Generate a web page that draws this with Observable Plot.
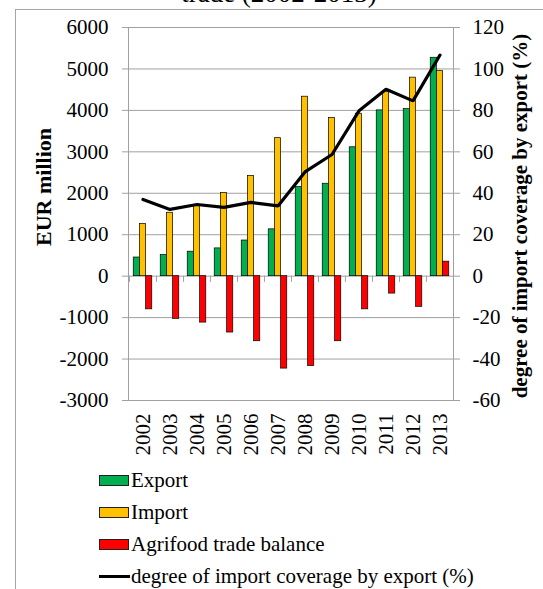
<!DOCTYPE html>
<html><head><meta charset="utf-8">
<script src="https://cdn.jsdelivr.net/npm/d3@7"></script>
<script src="https://cdn.jsdelivr.net/npm/@observablehq/plot@0.6"></script>
<style>
body{margin:0;background:#fff;}
#wrap{position:relative;width:543px;height:589px;overflow:hidden;font-family:"Liberation Serif","Times New Roman",serif;color:#000;background:#fff;}
#frame{position:absolute;left:15px;top:9px;width:600px;height:700px;border-top:1.5px solid #a6a6a6;border-left:1.5px solid #a6a6a6;pointer-events:none;}
#title{position:absolute;top:-20px;left:79px;width:400px;text-align:center;font-size:27px;line-height:1;white-space:nowrap;}
#chart{position:absolute;left:0;top:0;}
.ytitle{position:absolute;transform:translate(-50%,-50%) rotate(-90deg);white-space:nowrap;font-weight:bold;line-height:1;}
#legend{position:absolute;left:99px;top:464px;font-size:21px;line-height:1;}
.item{display:flex;align-items:center;height:32px;white-space:nowrap;}
.sw{width:30px;height:11px;box-sizing:border-box;border:1px solid #222;margin-right:2px;}
.ln{width:31px;height:3px;background:#000;margin-right:1px;}
</style>
</head><body>
<div id="wrap">
  <div id="title">trade (2002-2013)</div>
  <div id="chart"></div>
  <div id="frame"></div>
  <div class="ytitle" style="left:44px;top:187px;font-size:22px;">EUR million</div>
  <div class="ytitle" style="left:520px;top:216px;font-size:21px;">degree of import coverage by export (%)</div>
  <div id="legend"></div>
</div>
<script>
const years = ["2002","2003","2004","2005","2006","2007","2008","2009","2010","2011","2012","2013"];
const exportVals = [450, 510, 590, 670, 860, 1130, 2150, 2230, 3110, 4000, 4030, 5270];
const importVals = [1260, 1530, 1700, 2010, 2420, 3330, 4330, 3820, 3920, 4450, 4790, 4950];
const balanceVals = [-800, -1030, -1120, -1360, -1570, -2230, -2170, -1570, -800, -420, -740, 350];
const coverage = [37.0, 32.2, 34.6, 33.2, 35.6, 33.9, 50.3, 58.7, 79.8, 90.2, 84.6, 106.7];
const leftTicks = [-3000, -2000, -1000, 0, 1000, 2000, 3000, 4000, 5000, 6000];
const rightTicks = [-60, -40, -20, 0, 20, 40, 60, 80, 100, 120];
const seriesNames = ["Export", "Import", "Agrifood trade balance"];
const seriesColors = ["#00b050", "#ffc000", "#ff0000"];
const lineName = "degree of import coverage by export (%)";

const ratio = 6000 / 120; // left axis units per right axis unit
const rows = years.map((y, i) => ({year: y, exp: exportVals[i], imp: importVals[i], bal: balanceVals[i], cov: coverage[i]}));

const W = 543, H = 460, mL = 128, mR = 90, mT = 27, mB = 60;
const bw = (W - mL - mR) / years.length;
const barW = 6.2, gStart = (bw - 3 * barW) / 2;
const barInset = k => ({insetLeft: gStart + k * barW, insetRight: bw - gStart - (k + 1) * barW});
const grid = "#a0a0a0";

const chart = Plot.plot({
  width: W, height: H,
  marginLeft: mL, marginRight: mR, marginTop: mT, marginBottom: mB,
  x: {type: "band", domain: years, padding: 0, axis: null},
  y: {domain: [-3000, 6000], axis: null},
  style: {fontFamily: "'Liberation Serif','Times New Roman',serif", fontSize: "21px", color: "black", background: "transparent", overflow: "visible"},
  marks: [
    Plot.gridY(leftTicks, {stroke: grid, strokeOpacity: 1, strokeWidth: 1}),
    Plot.axisY(leftTicks, {anchor: "left", tickSize: 6, tickPadding: 14, stroke: grid, fill: "black", label: null, tickFormat: d => String(d)}),
    Plot.axisY(rightTicks.map(d => d * ratio), {anchor: "right", tickSize: 6, tickPadding: 13, stroke: grid, fill: "black", label: null, tickFormat: d => String(Math.round(d / ratio))}),
    Plot.frame({stroke: grid, strokeWidth: 1}),
    Plot.ruleX(years, {x: d => d, y1: 0, y2: -150, dx: -bw / 2, stroke: grid, strokeWidth: 1}),
    Plot.barY(rows, {x: "year", y1: 0, y2: "exp", fill: seriesColors[0], stroke: "#000", strokeWidth: 0.7, ...barInset(0)}),
    Plot.barY(rows, {x: "year", y1: 0, y2: "imp", fill: seriesColors[1], stroke: "#000", strokeWidth: 0.7, ...barInset(1)}),
    Plot.barY(rows, {x: "year", y1: 0, y2: "bal", fill: seriesColors[2], stroke: "#000", strokeWidth: 0.7, ...barInset(2)}),
    Plot.line(rows, {x: "year", y: d => d.cov * ratio, stroke: "#000", strokeWidth: 3.2, strokeLinejoin: "miter"}),
    Plot.axisX({anchor: "bottom", tickSize: 0, tickPadding: 13, tickRotate: -90, label: null, fill: "black"})
  ]
});
document.getElementById("chart").appendChild(chart);

const legend = document.getElementById("legend");
seriesNames.forEach((n, i) => {
  const it = document.createElement("div");
  it.className = "item";
  const sw = document.createElement("div");
  sw.className = "sw";
  sw.style.background = seriesColors[i];
  it.appendChild(sw);
  it.appendChild(document.createTextNode(n));
  legend.appendChild(it);
});
const it = document.createElement("div");
it.className = "item";
const ln = document.createElement("div");
ln.className = "ln";
it.appendChild(ln);
it.appendChild(document.createTextNode(lineName));
legend.appendChild(it);
</script>
</body></html>
